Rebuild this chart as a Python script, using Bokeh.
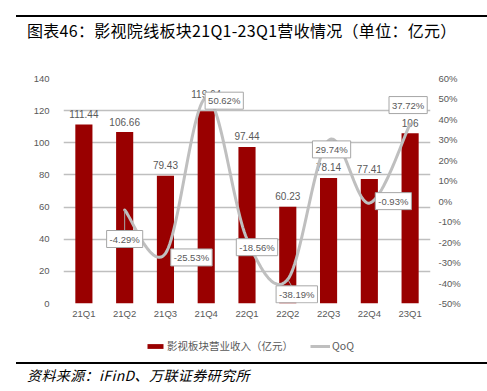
import numpy as np
from bokeh.plotting import figure
from bokeh.layouts import column
from bokeh.models import (FactorRange, Range1d, LinearAxis, FixedTicker, PrintfTickFormatter,
                          ColumnDataSource, Label, Legend, LegendItem, Div)
from bokeh.core.properties import value
from bokeh.embed import file_html
from bokeh.resources import INLINE

# ---- data ----
categories = ["21Q1", "21Q2", "21Q3", "21Q4", "22Q1", "22Q2", "22Q3", "22Q4", "23Q1"]
revenue = [111.44, 106.66, 79.43, 119.64, 97.44, 60.23, 78.14, 77.41, 106]
qoq = [None, -4.29, -25.53, 50.62, -18.56, -38.19, 29.74, -0.93, 37.72]
left_ticks = [0, 20, 40, 60, 80, 100, 120, 140]
right_ticks = [-50, -40, -30, -20, -10, 0, 10, 20, 30, 40, 50, 60]

title_text = "图表46：影视院线板块21Q1-23Q1营收情况（单位：亿元）"
source_text = "资料来源：iFinD、万联证券研究所"
bar_name = "影视板块营业收入（亿元）"
line_name = "QoQ"

# ---- style / layout ----
W = 487
FW, FHT = 367, 225
FL, FR, FT, FB = 63, 57, 8, 30
LH = 25
BAR_COLOR = "#990000"
LINE_COLOR = "#BFBFBF"
TXT = "#595959"
FONT = "Liberation Sans"
CJK = "Noto Sans CJK SC"
bar_label_dy = [-10.5, -10.5, -10.5, -17, -10.5, -10.5, -10.5, -10.5, -10.5]
qoq_dx = [0, 0, 26, 18, 10, 9, 3, 24, -2]
qoq_dy = [0, 29, 4, 3, 8, 15, 9, -2, -19]   # screen px, downward

p = figure(frame_width=FW, frame_height=FHT, x_range=FactorRange(*categories),
           y_range=Range1d(0, 140), output_backend="svg", toolbar_location=None,
           min_border_left=FL, min_border_right=FR, min_border_top=FT, min_border_bottom=FB)
p.x_range.range_padding = 0
p.outline_line_color = None
p.background_fill_color = "white"
p.border_fill_color = "white"
p.extra_y_ranges = {"pct": Range1d(-50, 60)}

# axes
p.yaxis.ticker = FixedTicker(ticks=left_ticks)
rax = LinearAxis(y_range_name="pct", ticker=FixedTicker(ticks=right_ticks),
                 formatter=PrintfTickFormatter(format="%d%%"))
p.add_layout(rax, "right")
for ax in [p.yaxis[0], p.xaxis[0], rax]:
    ax.axis_line_color = None
    ax.major_tick_line_color = None
    ax.minor_tick_line_color = None
    ax.major_tick_out = 0
    ax.major_tick_in = 0
    ax.minor_tick_out = 0
    ax.major_label_text_color = TXT
    ax.major_label_text_font = FONT
    ax.major_label_text_font_size = "9.5px"
p.yaxis[0].major_label_standoff = 14
rax.major_label_standoff = 8
p.xaxis.major_label_standoff = 4
p.xgrid.grid_line_color = None
p.ygrid.grid_line_color = LINE_COLOR
p.ygrid.grid_line_width = 1.5
p.ygrid.ticker = FixedTicker(ticks=left_ticks)

# bars
bsrc = ColumnDataSource(dict(x=categories, top=revenue,
                             lab=[f"{v:g}" for v in revenue], dy=bar_label_dy))
bars = p.vbar(x="x", top="top", width=0.42, source=bsrc, fill_color=BAR_COLOR, line_color=None)
p.text(x="x", y="top", text="lab", source=bsrc, y_offset="dy", text_align="center",
       text_baseline="middle", text_color=TXT, text_font=value(FONT), text_font_size="10px")

# smooth QoQ line (bezier through data points, in pixel-proportional space)
sx_px = FW / len(categories)
sy_px = FHT / 110.0
xs = np.array([i + 0.5 for i, q in enumerate(qoq) if q is not None])
ys = np.array([q for q in qoq if q is not None])
P = np.column_stack([xs * sx_px, ys * sy_px])
n = len(P)
segs = []
t = np.linspace(0, 1, 30)[:, None]
for i in range(n - 1):
    p0 = P[max(i - 1, 0)]; p1 = P[i]; p2 = P[i + 1]; p3 = P[min(i + 2, n - 1)]
    c1 = p1 + (p2 - p0) / 6.0
    c2 = p2 - (p3 - p1) / 6.0
    seg = (1 - t) ** 3 * p1 + 3 * (1 - t) ** 2 * t * c1 + 3 * (1 - t) * t ** 2 * c2 + t ** 3 * p2
    segs.append(seg if i == 0 else seg[1:])
curve = np.vstack(segs)
cx, cy = curve[:, 0] / sx_px, curve[:, 1] / sy_px
line = p.line(cx, cy, y_range_name="pct",
              line_color=LINE_COLOR, line_width=3, line_cap="round", line_join="round")

# leader lines
lx0 = [xs[0], xs[4]]
ly0 = [qoq[1], qoq[5]]
lx1 = [xs[0], xs[4] + 4 / sx_px]
ly1 = [qoq[1] - 21 / sy_px, qoq[5] - 7 / sy_px]
p.segment(x0=lx0, y0=ly0, x1=lx1, y1=ly1, y_range_name="pct", line_color="#A6A6A6", line_width=1)

# QoQ labels (boxed)
for i, q in enumerate(qoq):
    if q is None:
        continue
    p.add_layout(Label(x=i + 0.5, y=q, y_range_name="pct", text=f"{q:.2f}%",
                       x_offset=qoq_dx[i], y_offset=-qoq_dy[i],
                       text_align="center", text_baseline="middle",
                       text_color=TXT, text_font=FONT, text_font_size="9.5px",
                       background_fill_color="white", border_line_color="#A6A6A6",
                       border_line_width=1, padding=3))

# legend strip (same data renderers, out of view; only the legend shows)
lp = figure(width=W, height=LH, x_range=p.x_range, y_range=Range1d(1000, 1001),
            output_backend="svg", toolbar_location=None, min_border=0,
            x_axis_location=None, y_axis_location=None)
lp.outline_line_color = None
lp.grid.visible = False
lp.background_fill_color = "white"
lp.border_fill_color = "white"
lbars = lp.vbar(x="x", top="top", width=0.42, source=bsrc, fill_color=BAR_COLOR, line_color=None)
lline = lp.line(cx, cy, line_color=LINE_COLOR, line_width=3)
legend = Legend(items=[LegendItem(label=bar_name, renderers=[lbars]),
                       LegendItem(label=line_name, renderers=[lline])],
                orientation="horizontal", location=(82, 5),
                glyph_width=20, glyph_height=6, label_standoff=2, spacing=17,
                padding=0, margin=0, border_line_color=None, background_fill_alpha=0,
                label_text_font=CJK, label_text_font_size="10.5px", label_text_color=TXT,
                label_height=12)
lp.add_layout(legend, "center")

title_div = Div(width=W, height=70, margin=(0, 0, 0, 0), text=(
    '<div style="margin:15px 0 0 16px;width:471px;border-top:2px solid black;'
    'padding-left:11px;box-sizing:border-box;line-height:26px;white-space:nowrap;'
    'letter-spacing:0.3px;'
    f'font-family:\'{CJK}\';font-size:16px;color:black;">{title_text}</div>'))
source_div = Div(width=W, height=30, margin=(0, 0, 0, 0), text=(
    '<div style="margin:4px 0 0 16px;width:471px;border-top:2px solid black;'
    'padding-left:11px;box-sizing:border-box;line-height:22px;white-space:nowrap;'
    'letter-spacing:0.4px;'
    f'font-family:\'{CJK}\';font-size:14px;font-style:italic;color:black;">{source_text}</div>'))

layout = column(title_div, p, lp, source_div, spacing=0)
open("out.html", "w").write(file_html(layout, INLINE))
